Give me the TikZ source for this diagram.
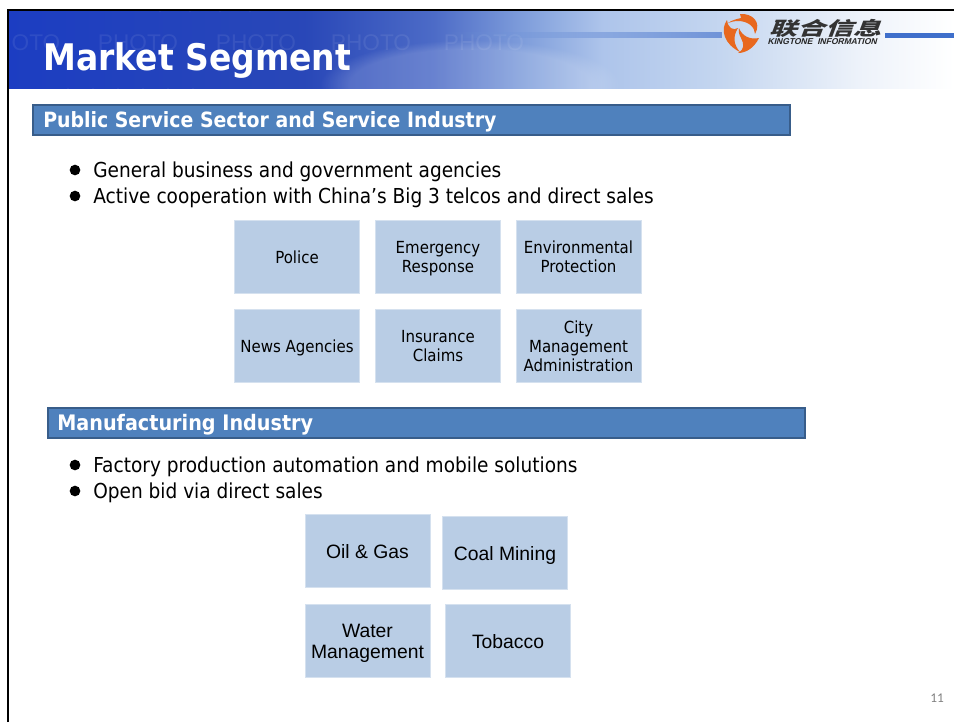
\documentclass[tikz,border=0pt]{standalone}
\usepackage{fontspec}
\setmainfont[FakeStretch=0.9]{DejaVu Sans}
\newfontfamily\arialfont{Liberation Sans}
\newfontfamily\pagefont{Carlito}
\newfontfamily\cjkfont{Noto Sans CJK SC}
\usetikzlibrary{fadings}

\definecolor{barblue}{HTML}{4F81BD}
\definecolor{bardark}{HTML}{385D8A}
\definecolor{boxblue}{HTML}{B9CDE5}
\definecolor{logoorange}{HTML}{E8681E}
\definecolor{logoblue}{HTML}{3F6FCB}

\pgfdeclarehorizontalshading{headshade}{100bp}{
   rgb(0bp)=(0.11,0.24,0.76);
   rgb(25bp)=(0.11,0.24,0.76);
   rgb(40.7bp)=(0.16,0.28,0.72);
   rgb(47.5bp)=(0.30,0.42,0.78);
   rgb(52.3bp)=(0.50,0.62,0.86);
   rgb(56.4bp)=(0.68,0.77,0.92);
   rgb(62.7bp)=(0.77,0.84,0.94);
   rgb(70bp)=(0.93,0.95,0.98);
   rgb(75bp)=(1,1,1);
   rgb(100bp)=(1,1,1)}

\tikzset{
   sectionbar/.style={draw=bardark,line width=1.5pt,fill=barblue,minimum width=568pt,
      minimum height=22pt,inner sep=0pt},
   sectiontext/.style={text=white,font=\fontsize{15.75}{18}\selectfont\bfseries,anchor=west,inner sep=0pt},
   bullettext/.style={anchor=west,inner sep=0pt,font=\fontsize{15.45}{18}\selectfont},
   bulletdot/.style={circle,fill=black,inner sep=0pt,minimum size=8pt},
   tilebox/.style={fill=boxblue,draw=boxblue!60!white,line width=0.5pt,minimum width=94pt,minimum height=55pt,
      inner sep=0pt,text depth=0pt,align=center,font=\fontsize{12.5}{14.2}\selectfont},
   tilelarge/.style={tilebox,font=\arialfont\fontsize{14.5}{15.6}\selectfont},
   photomark/.style={text=white,text opacity=0.08,font=\arialfont\fontsize{17}{17}\selectfont,inner sep=0pt},
   headarc/.style={draw=white,opacity=0.13,line width=0.5pt}
}

\begin{document}
\begin{tikzpicture}[x=0.75pt,y=-0.75pt]
   \useasboundingbox (0,0) rectangle (954,722);

   % header
   \shade[shading=headshade] (8,10) rectangle (954,88);
   \begin{scope}
      \clip (8,10) rectangle (954,88);
      \fill[white,opacity=0.16,path fading=circle with fuzzy edge 20 percent] (470,85) ellipse (150 and 45);
      \foreach \r in {60,85,110,135,160,185}
         \draw[headarc] (8,88) ++(70:\r) arc (70:0:\r);
      \foreach \r in {40,70,100,130}
         \draw[headarc] (290,12) ++(180:\r) arc (180:265:\r);
   \end{scope}
   \node[photomark] at (36,43) (photoa) {OTO};
   \node[photomark] at (138,43) (photob) {PHOTO};
   \node[photomark] at (256,43) (photoc) {PHOTO};
   \node[photomark] at (371,43) (photod) {PHOTO};
   \node[photomark] at (484,43) (photoe) {PHOTO};
   \fill[logoblue!75!white,path fading=west] (440,32) rectangle (722,38);
   \fill[logoblue] (885,33) rectangle (954,38);

   % logo
   \fill[logoorange] (740,14) .. controls (752,13) and (762,22) .. (755,34)
      .. controls (755,27) and (748,21) .. (738,21) .. controls (734,21) and (731,22) .. (728,23)
      .. controls (732,20) and (737,19) .. (741,18) -- cycle;
   \fill[logoorange] (727,20) .. controls (720,30) and (724,44) .. (740,52)
      .. controls (733,44) and (733,36) .. (738,28) .. controls (733,31) and (728,28) .. (727,20) -- cycle;
   \fill[logoorange] (759,38) .. controls (754,48) and (746,53) .. (738,53)
      .. controls (745,49) and (744,44) .. (741,38) .. controls (739,34) and (738,31) .. (739,28)
      .. controls (742,36) and (750,40) .. (759,38) -- cycle;
   \node[inner sep=0pt,xscale=1.5,xslant=0.25,text=black!80!white,font=\cjkfont\fontsize{14}{14}\selectfont\bfseries] at (828,28) (logotext) {联合信息};
   \node[inner sep=0pt,xslant=0.25,text=black!85!white,font=\arialfont\fontsize{6.4}{7}\selectfont\bfseries] at (823,42) (logosub) {KINGTONE\ \ INFORMATION};

   % frame
   \draw[black,line width=2.2pt] (8,722) -- (8,10) -- (954,10);

   \node[anchor=west,inner sep=0pt,text=white,font=\fontsize{27.5}{30}\selectfont\bfseries] at (43,61) (title) {Market Segment};

   % first section
   \node[sectionbar,anchor=west] at (32,120) (publicbar) {};
   \node[sectiontext] at (43,122) (publictext) {Public Service Sector and Service Industry};
   \node[bulletdot] at (75,170) (dota) {};
   \node[bulletdot] at (75,196) (dotb) {};
   \node[bullettext] at (93,172) (generaltext) {General business and government agencies};
   \node[bullettext] at (93,198) (activetext) {Active cooperation with China's Big 3 telcos and direct sales};

   \node[tilebox] at (297,257) (police) {Police};
   \node[tilebox] at (438,257) (emergency) {Emergency\\Response};
   \node[tilebox] at (578.5,257) (environment) {Environmental\\Protection};
   \node[tilebox] at (297,346) (news) {News Agencies};
   \node[tilebox] at (438,346) (insurance) {Insurance\\Claims};
   \node[tilebox] at (578.5,346) (city) {City\\Management\\Administration};

   % second section
   \node[sectionbar,anchor=west] at (47,423) (manubar) {};
   \node[sectiontext,font=\fontsize{16}{18}\selectfont\bfseries] at (57,425) (manutext) {Manufacturing Industry};
   \node[bulletdot] at (75,465) (dotc) {};
   \node[bulletdot] at (75,491) (dotd) {};
   \node[bullettext] at (93,467) (factorytext) {Factory production automation and mobile solutions};
   \node[bullettext] at (93,493) (bidtext) {Open bid via direct sales};

   \node[tilelarge] at (367.5,551) (oil) {Oil \& Gas};
   \node[tilelarge] at (505,553) (coal) {Coal Mining};
   \node[tilelarge] at (367.5,641) (water) {Water\\Management};
   \node[tilelarge] at (508,641) (tobacco) {Tobacco};

   \node[inner sep=0pt,text=black!50!white,font=\pagefont\fontsize{10}{12}\selectfont] at (937,698) (pagenum) {11};
\end{tikzpicture}
\end{document}
